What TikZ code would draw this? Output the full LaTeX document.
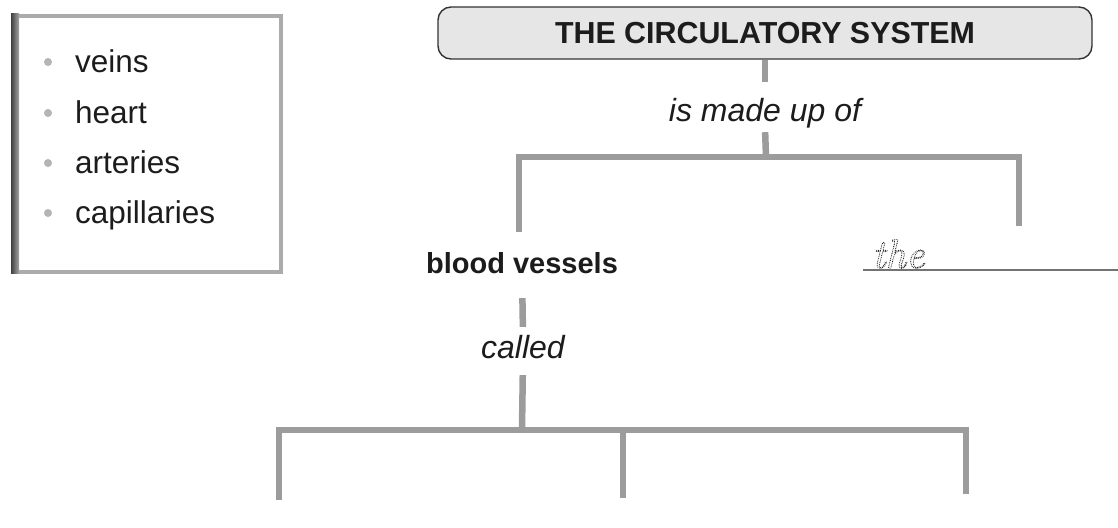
\documentclass[tikz,border=0pt]{standalone}
\usepackage{fontspec}
\setmainfont{Liberation Sans}
\newfontfamily\cursivefam{Latin Modern Roman}
\usetikzlibrary{calc}
\definecolor{conngray}{HTML}{9C9C9C}
\definecolor{framegray}{HTML}{ABABAB}
\definecolor{titlefill}{HTML}{E6E6E6}
\definecolor{inkc}{HTML}{1C1C1C}
\definecolor{bulletgray}{HTML}{B5B5B5}
\tikzset{
  conn/.style={draw=conngray, line width=6.5pt, line join=miter},
  listitem/.style={anchor=base west, inner sep=0pt, text=inkc, font=\fontsize{31.5}{34}\selectfont},
  linkword/.style={anchor=base, inner sep=0pt, text=inkc, font=\fontsize{32}{34}\selectfont\itshape},
  bulletdot/.style={circle, fill=bulletgray, minimum size=8pt, inner sep=0pt},
}
\begin{document}
\begin{tikzpicture}[x=1pt,y=-1pt]
\useasboundingbox[fill=white] (0,0) rectangle (1118,527);

% word box
\node[draw=framegray, line width=4pt, minimum width=266pt, minimum height=256pt, inner sep=0pt] (wordbox) at (148,144) {};
\shade[left color=black!75, right color=black!35] (11,14) rectangle (19,273);
\foreach \i/\w/\yy in {1/veins/72,2/heart/123,3/arteries/173,4/capillaries/223}{
  \node[bulletdot] (b\i) at (48,\yy-10) {};
  \node[listitem] (w\i) at (75,\yy) {\w};
}

% title
\node[draw=black!80, line width=1.4pt, fill=titlefill, rounded corners=13pt,
      minimum width=654pt, minimum height=52pt, inner sep=0pt,
      text=inkc, font=\fontsize{30.4}{32}\selectfont\bfseries] (title) at (765,33) {THE CIRCULATORY SYSTEM};

% link words and terms
\node[linkword, text height=23pt, text depth=7pt] (madeup) at (765,121) {is made up of};
\node[anchor=base, inner sep=0pt, text=inkc, text height=21pt, text depth=0pt,
      font=\fontsize{29}{31}\selectfont\bfseries] (blood) at (522,273) {blood vessels};
\node[linkword, text height=23pt, text depth=0pt] (called) at (523,358) {called};

% the ____
\node[anchor=base west, inner sep=0pt, text=black!90, font=\cursivefam\itshape\fontsize{41}{41}\selectfont] (the) at (872,268)
  {\special{pdf:literal direct 1.1 w [0 1.8] 0 d 1 J 1 Tr}the\special{pdf:literal direct 0 Tr [] 0 d 0 J}};
\coordinate (ansL) at (863,270);
\coordinate (ansR) at (1118,270);
\draw[draw=black!55, line width=1.5pt] (ansL) -- (ansR);

% junctions and free ends
\coordinate (j1) at (766,157);
\coordinate (bx) at (519,0);
\coordinate (rend) at (1019,226);
\coordinate (j2) at (522,430);
\coordinate (e1) at (279,500);
\coordinate (e2) at (623,498);
\coordinate (e3) at (966,494);

% connectors
\draw[conn, shorten >=16pt] (title.south) -- (madeup.north);
\draw[conn, shorten <=4pt] (madeup.south) -- (j1);
\draw[conn, shorten <=20pt] (bx |- blood.north) |- (j1) -| (rend);
\draw[conn, shorten <=25pt, shorten >=8pt] (blood.south) -- (called.north);
\draw[conn, shorten <=17pt] (called.south) -- (j2);
\draw[conn] (e1) |- (j2) -| (e3);
\draw[conn] (j2 -| e2) -- (e2);
\end{tikzpicture}
\end{document}
